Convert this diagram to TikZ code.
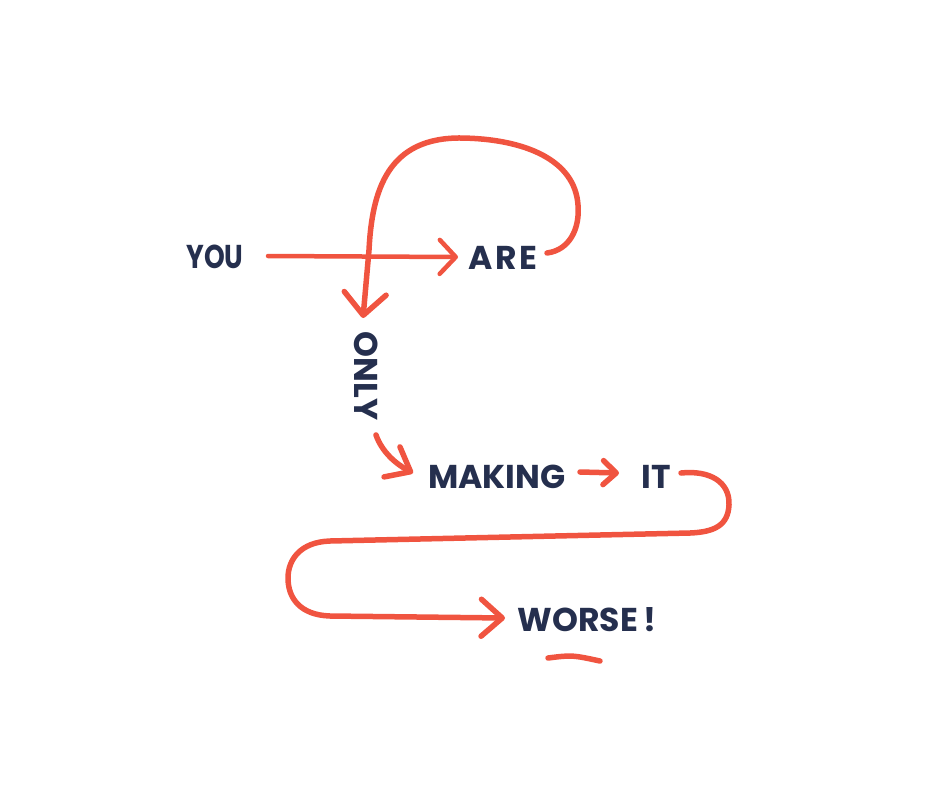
\documentclass[tikz,border=0pt]{standalone}
\usepackage{fontspec}
\setmainfont{Poppins}
\usetikzlibrary{arrows.meta}
\definecolor{redl}{HTML}{F05440}
\definecolor{navy}{HTML}{252F4E}
\tikzset{
  word/.style={text=navy, font=\fontsize{33}{33}\selectfont\bfseries, inner sep=0pt, anchor=center},
  link/.style={draw=redl, line width=5.5pt, line cap=round, line join=round},
  thin/.style={link, line width=4.5pt},
}
\begin{document}
\begin{tikzpicture}[x=1pt,y=-1pt]
\useasboundingbox (0,0) rectangle (929,801);
\node[word, xscale=0.8] (you) at (215,257) {YOU};
\node[word] (are) at (503,258) {\addfontfeature{LetterSpace=9}ARE};
\node[word, rotate=-90] (only) at (366,376) {ONLY};
\node[word] (making) at (497,477) {MAKING};
\node[word] (it) at (656,477) {IT};
\node[word] (worse) at (587,620) {WORSE\,!};
% connector endpoints
\coordinate (youout) at (268,256);
\coordinate (arein) at (458,257);
\coordinate (areout) at (547,253);
\coordinate (onlyin) at (363,318);
\coordinate (onlyout) at (376,435);
\coordinate (makingin) at (413,473);
\coordinate (makingout) at (580,472);
\coordinate (itin) at (619,473);
\coordinate (itout) at (681,473);
\coordinate (worsein) at (505,618);
\coordinate (ulA) at (548,658);
\coordinate (ulB) at (600,661);
% arrows
\draw[thin, -{Straight Barb[length=16pt,width=34pt,round]}] (youout) -- (arein);
\draw[link, -{Straight Barb[length=22pt,width=42pt,round]}] (areout)
  .. controls (570,250) and (580,228) .. (578,205)
  .. controls (575,160) and (525,139) .. (462,138)
  .. controls (388,137) and (372,190) .. (369,250)
  -- (onlyin);
\draw[link, -{Straight Barb[length=21pt,width=34pt,round]}] (onlyout)
  .. controls (382,452) and (396,464) .. (makingin);
\draw[link, -{Straight Barb[length=13pt,width=24pt,round]}] (makingout) -- (itin);
\draw[link, -{Straight Barb[length=21pt,width=37pt,round]}] (itout)
  .. controls (710,470) and (730,482) .. (729,505)
  .. controls (728,525) and (715,532) .. (690,533)
  -- (330,541)
  .. controls (300,542) and (288,560) .. (288,578)
  .. controls (288,598) and (300,615) .. (330,616)
  -- (worsein);
\draw[link] (ulA) .. controls (572,655) .. (ulB);
\end{tikzpicture}
\end{document}
